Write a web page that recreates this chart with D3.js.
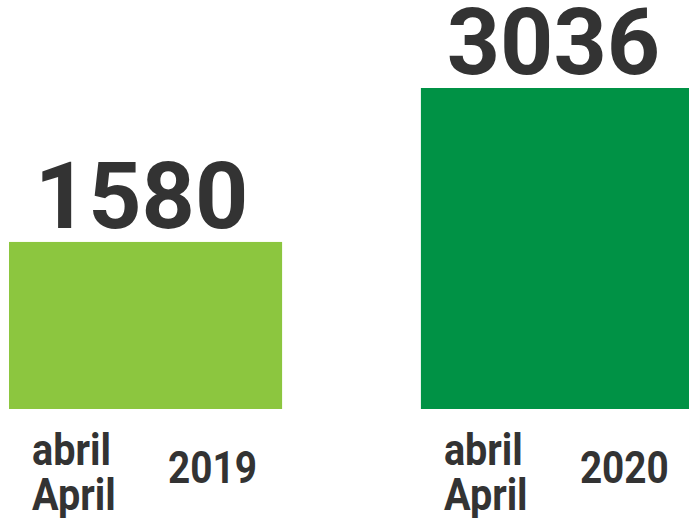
<!DOCTYPE html>
<html>
<head>
<meta charset="utf-8">
<script src="https://cdn.jsdelivr.net/npm/d3@7"></script>
<style>
  body { margin: 0; background: #fff; }
  svg { display: block; }
  text { font-family: Roboto, "DejaVu Sans", sans-serif; font-weight: 700; fill: #333; }
</style>
</head>
<body>
<svg></svg>
<script>
const years = ['2019', '2020'];
const values = [1580, 3036];
const monthEs = ['abril', 'abril'];
const monthEn = ['April', 'April'];
const colors = ['#8cc63f', '#009245'];

const [width, height] = [689, 518];
const baseY = 409;
const topY = 88;

const svg = d3.select('svg').attr('width', width).attr('height', height);

const x = d3.scaleBand().domain(years).range([9, 694]).paddingInner(0.337).paddingOuter(0);
const y = d3.scaleLinear().domain([0, d3.max(values)]).range([baseY, topY]);

const data = years.map((yr, i) => ({ year: yr, value: values[i], es: monthEs[i], en: monthEn[i], color: colors[i] }));

svg.selectAll('rect.bar')
  .data(data)
  .join('rect')
  .attr('class', 'bar')
  .attr('x', d => x(d.year))
  .attr('y', d => y(d.value))
  .attr('width', x.bandwidth())
  .attr('height', d => baseY - y(d.value))
  .attr('fill', d => d.color);

svg.selectAll('text.value')
  .data(data)
  .join('text')
  .attr('class', 'value')
  .attr('x', d => x(d.year) + x.bandwidth() / 2 - 4)
  .attr('y', d => y(d.value) - 14)
  .attr('text-anchor', 'middle')
  .style('font-size', '93px')
  .text(d => d.value);

// condensed-looking labels under each bar
const lab = svg.selectAll('g.lab')
  .data(data)
  .join('g')
  .attr('class', 'lab')
  .attr('transform', d => `translate(${x(d.year)}, 0)`);

lab.append('text')
  .attr('transform', 'translate(23, 465) scale(0.88, 1)')
  .style('font-size', '45px')
  .text(d => d.es);

lab.append('text')
  .attr('transform', 'translate(23, 510) scale(0.88, 1)')
  .style('font-size', '45px')
  .text(d => d.en);

lab.append('text')
  .attr('transform', 'translate(159, 483) scale(0.88, 1)')
  .style('font-size', '44px')
  .text(d => d.year);
</script>
</body>
</html>
